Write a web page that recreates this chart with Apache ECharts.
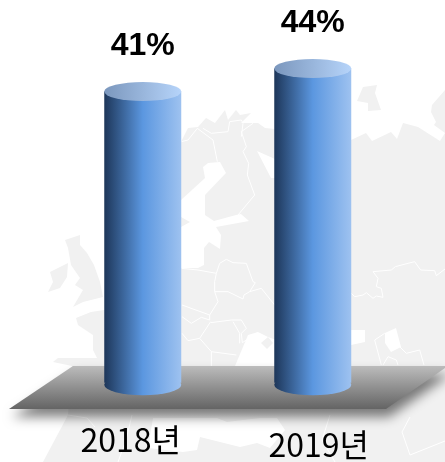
<!DOCTYPE html>
<html><head><meta charset="utf-8">
<style>html,body{margin:0;padding:0;background:#fff}#c{width:445px;height:462px}</style>
<script src="https://cdn.jsdelivr.net/npm/echarts@6/dist/echarts.min.js"></script>
</head><body><div id="c"></div>
<script>
const categories = ['2018년', '2019년'];
const values = [41, 44];
const labelTexts = ['41%', '44%'];

const GRAY = '#f1f1f1', WHITE = '#ffffff';
const z7 = p => p.map(([x, y]) => [178 + x / 3, 100 + y / 3]);
const z8 = p => p.map(([x, y]) => [348 + x / 3, 70 + y / 3]);

const poly = (points, fill, z) => ({ type: 'polygon', silent: true, z: z || 1, shape: { points }, style: { fill } });
const line = (points) => ({ type: 'polyline', silent: true, z: 3, shape: { points }, style: { stroke: WHITE, lineWidth: 1, fill: null } });

const land = [
  [140,142],[181,142],[188,128],[198,127],[206,118],[215,123],[225,110],[228,120],[236,110],[240,115],[251,113],[241,123],[258,123],[265,128],[275,129],
  [351,140],[366,133],[372,141],[391,132],[397,139],[403,123],[418,127],[440,141],[445,133],
  [445,462],[43,462],[68,415],[72,366],[53,362],[58,358],[87,358],[97,358],[93,350],[93,335],[78,325],[76,318],[91,312],[104,310],[140,300]
];
const uk = [[65,240],[80,235],[80,245],[87,253],[94,265],[100,282],[103,297],[83,302],[73,307],[83,290],[75,285],[80,278],[71,265],[68,248]];
const ireland = [[50,272],[68,263],[67,277],[60,288],[48,292],[53,282]];
const rightLand = [[445,90],[432,105],[431,112],[436,122],[434,125],[445,133]];
const novaya = [[363,87],[377,85],[375,93],[381,110],[368,111],[368,103],[357,101]];
const baltic = [[140,230],[181,200],[205,178],[203,167],[208,163],[220,162],[226,173],[205,195],[205,215],[214,221],[236,215],[241,214],[249,221],[216,227],[221,235],[220,249],[209,242],[204,248],[204,265],[198,268],[140,268]];
const gotland = [[181,217],[190,222],[181,227]];
const whiteSea = [[257,151],[275,159],[275,178],[271,178]];
const blackSea = [[235,366],[248,335],[258,332],[268,337],[290,345],[290,366]];
const crimea = [[261,343],[268,337],[273,343],[267,349]];
const azov = [[351,330],[365,330],[365,342],[351,345],[330,345],[330,330]];
const caspian = [[385,333],[396,328],[401,347],[391,352],[385,343]];
const med = [[153,418],[217,418],[227,422],[260,418],[277,418],[285,430],[270,448],[257,443],[240,447],[200,437],[197,450],[183,452],[148,448]];

const borders = [
  z7([[225,70],[190,95],[205,140],[195,155],[212,190],[208,225],[230,285],[180,345]]),
  z7([[10,125],[30,120],[58,85],[105,120],[118,185]]),
  z7([[75,85],[100,100],[150,95],[155,65],[190,60],[195,70],[190,110]]),
  z7([[10,505],[60,510],[115,520],[110,545],[110,575],[120,605],[95,645],[95,660],[70,652],[40,670],[12,650]]),
  z7([[115,520],[125,490],[145,478],[165,488],[205,490],[225,545],[232,548],[215,575],[198,585],[195,597],[150,575],[110,575]]),
  z7([[12,615],[95,645]]),
  z7([[98,665],[65,715],[30,722],[12,700]]),
  z7([[98,668],[160,660],[190,660],[205,685],[190,700],[193,728],[240,697]]),
  z7([[65,715],[100,755],[175,765]]),
  z7([[100,755],[100,800]]),
  z7([[165,665],[185,700],[185,730]]),
  z7([[215,575],[250,565],[290,615]]),
  z8([[10,670],[20,680],[45,675],[55,668],[75,685],[85,678],[105,682],[100,655],[85,650],[90,625],[75,605],[130,600],[142,590],[180,580],[200,575],[218,600],[260,602],[265,617],[291,597]]),
  z8([[80,810],[110,790],[150,825],[175,850],[215,840],[228,885]]),
  z8([[80,810],[100,885]]),
  z8([[105,885],[120,860],[145,870],[150,885]]),
  [[410,417],[402,432],[410,455],[445,441]],
  [[68,415],[87,418],[95,427]],
  [[132,415],[126,440],[118,462]],
  [[330,415],[322,440],[335,462]]
];

const platform = {
  type: 'polygon', silent: true, z: 5,
  shape: { points: [[9,409],[73,366],[445,366],[445,368],[386,409]] },
  style: {
    fill: new echarts.graphic.LinearGradient(0, 0, 0, 1, [
      { offset: 0, color: '#bcbcbc' }, { offset: 1, color: '#646464' }
    ]),
    shadowBlur: 12, shadowOffsetX: 3, shadowOffsetY: 8, shadowColor: 'rgba(0,0,0,0.5)'
  }
};

const bodyFill = new echarts.graphic.LinearGradient(0, 0, 1, 0, [
  { offset: 0, color: '#1d3659' }, { offset: 0.5, color: '#5b97e0' }, { offset: 1, color: '#9ec2f0' }
]);
const topFill = new echarts.graphic.LinearGradient(0, 0, 1, 0, [
  { offset: 0, color: '#7b97bd' }, { offset: 1, color: '#b6d4fa' }
]);

const chart = echarts.init(document.getElementById('c'), null, { renderer: 'canvas' });
chart.setOption({
  animation: false,
  backgroundColor: '#fff',
  grid: { left: 57.75, width: 340, top: 22.5, height: 360.3, containLabel: false },
  xAxis: {
    type: 'category',
    data: [
      { value: categories[0], textStyle: { padding: [0, 24, 0, 0] } },
      { value: categories[1], textStyle: { padding: [5, 0, 0, 12] } }
    ],
    axisLine: { show: false }, axisTick: { show: false },
    z: 20,
    axisLabel: { margin: 41, fontSize: 32, color: '#000', fontFamily: 'Noto Sans CJK KR', interval: 0 }
  },
  yAxis: { type: 'value', min: 3, max: 50, show: false },
  graphic: { elements: [
    poly(land, GRAY), poly(uk, GRAY), poly(ireland, GRAY), poly(rightLand, GRAY), poly(novaya, GRAY),
    poly(baltic, WHITE, 2), poly(gotland, GRAY, 2.5), poly(whiteSea, WHITE, 2), poly(blackSea, WHITE, 2), poly(crimea, GRAY, 2.5),
    poly(azov, WHITE, 2), poly(caspian, WHITE, 2), poly(med, WHITE, 2),
    ...borders.map(line),
    platform
  ] },
  series: [
    {
      type: 'pictorialBar', z: 10, data: values, symbol: 'circle', symbolSize: [77, 21],
      symbolPosition: 'start', symbolOffset: [0, '-50%'], itemStyle: { color: bodyFill }, silent: true
    },
    {
      type: 'bar', z: 11, data: values, barWidth: 77, itemStyle: { color: bodyFill }, silent: true,
      label: {
        show: true, position: 'top', distance: 29,
        formatter: p => labelTexts[p.dataIndex],
        fontSize: 32, fontWeight: 'bold', color: '#000', fontFamily: 'Liberation Sans'
      }
    },
    {
      type: 'pictorialBar', z: 12, data: values, symbol: 'circle', symbolSize: [77, 19],
      symbolPosition: 'end', symbolOffset: [0, '-50%'], itemStyle: { color: topFill }, silent: true
    }
  ]
});
</script></body></html>
